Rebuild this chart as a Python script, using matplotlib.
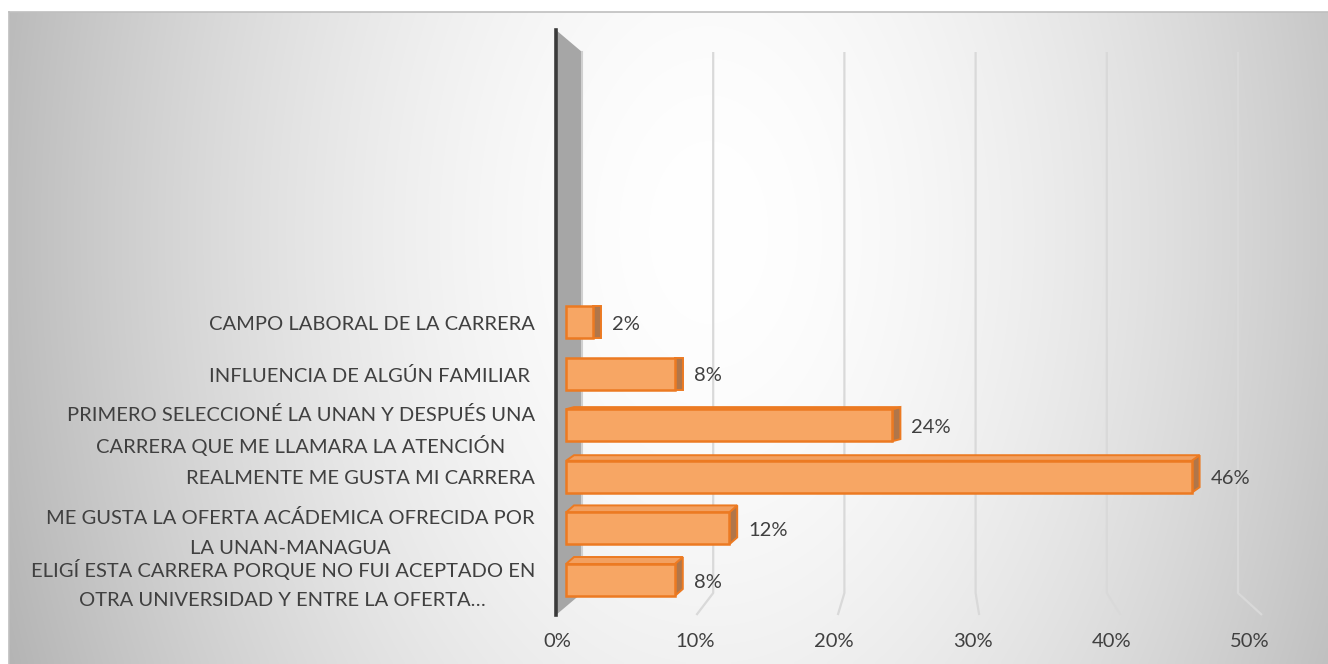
import numpy as np
import matplotlib
matplotlib.use("Agg")
import matplotlib.pyplot as plt
from matplotlib.patches import Polygon

# ─── data ─────────────────────────────────────────────────────
categories = [
    "CAMPO LABORAL DE LA CARRERA",
    "INFLUENCIA DE ALGÚN FAMILIAR ",
    "PRIMERO SELECCIONÉ LA UNAN Y DESPUÉS UNA\nCARRERA QUE ME LLAMARA LA ATENCIÓN",
    "REALMENTE ME GUSTA MI CARRERA",
    "ME GUSTA LA OFERTA ACÁDEMICA OFRECIDA POR\nLA UNAN-MANAGUA",
    "ELIGÍ ESTA CARRERA PORQUE NO FUI ACEPTADO EN\nOTRA UNIVERSIDAD Y ENTRE LA OFERTA…",
]
values = [0.02, 0.08, 0.24, 0.46, 0.12, 0.08]
value_labels = ["2%", "8%", "24%", "46%", "12%", "8%"]
ticks = [0.0, 0.1, 0.2, 0.3, 0.4, 0.5]
tick_labels = ["0%", "10%", "20%", "30%", "40%", "50%"]

# ─── style ────────────────────────────────────────────────────
FONT = ["Lato", "DejaVu Sans"]
TXT = "#404040"
FS = 14.5
FACE, EDGE, SIDE, TOP = "#F7A664", "#EC7A22", "#B0764A", "#F2A060"
GRID = "#D9D9D9"

W, H = 1328, 664
fig = plt.figure(figsize=(W / 100, H / 100), dpi=100)
fig.patch.set_facecolor("white")

# ── chart area background (soft radial gradient) ──────────────
bg = fig.add_axes([9 / W, 0, (W - 9) / W, (H - 12) / H])
xx, yy = np.meshgrid(np.linspace(0, W - 9, 400), np.linspace(0, H - 12, 200))
r = np.sqrt(((xx - 700) / 650) ** 2 + ((yy - 220) / 1000) ** 2)
shade = 255 - 58 * np.clip(r, 0, 1.5) ** 1.7
img = np.dstack([shade, shade, shade]) / 255
bg.imshow(img, extent=[0, 1, 0, 1], aspect="auto", interpolation="bilinear")
bg.set_xticks([])
bg.set_yticks([])
for side in ["right", "bottom"]:
    bg.spines[side].set_visible(False)
for side in ["top", "left"]:
    bg.spines[side].set_color("#BFBFBF")
    bg.spines[side].set_linewidth(1.2)

# ── main axes: x is the share, y the category row ─────────────
PX_X = 1360.0          # pixels per unit of x
PX_Y = 51.6            # pixels per category row
X0, Y0 = 566, 322      # pixel of x=0 and of first row
XMIN, XMAX = -0.02, 0.53
top_px, bot_px = 30, 615
left_px = X0 + XMIN * PX_X
ax = fig.add_axes([left_px / W, (H - bot_px) / H,
                   (XMAX - XMIN) * PX_X / W, (bot_px - top_px) / H])
ax.patch.set_visible(False)
for s in ax.spines.values():
    s.set_visible(False)

def px(p):
    return (p - X0) / PX_X

def py(p):
    return (p - Y0) / PX_Y

# perspective: back wall, floor front and label line
def back(v):
    return px(582) + v * 1312 / PX_X

def front(v):
    return px(555) + v * 1414 / PX_X

def lab(v):
    return px(557) + v * 1386 / PX_X

y_top, y_back, y_front = py(52), py(593), py(615)

# gridlines on back wall and down across the floor
for v in ticks[1:]:
    ax.plot([back(v), back(v), front(v)], [y_top, y_back, y_front],
            color=GRID, lw=1.6, clip_on=False, zorder=1, solid_capstyle="butt")

# left wall
ax.add_patch(Polygon([(px(556), py(30)), (back(0), y_top), (back(0), y_back),
                      (px(556), y_front)], closed=True, facecolor="#A6A6A6",
                     edgecolor="none", clip_on=False, zorder=2))
ax.plot([back(0), back(0)], [y_top, y_back], color="#D0D0D0", lw=1.5,
        clip_on=False, zorder=2)
ax.plot([px(556), px(556)], [py(30), y_front], color="#3A3A3A", lw=2.6,
        clip_on=False, zorder=3)

# ── 3D bars ───────────────────────────────────────────────────
h = 32 / PX_Y
dx = 8 / PX_X
ys = np.arange(len(values))
ax.barh(ys, values, height=h, left=0, color=FACE, edgecolor=EDGE,
        linewidth=1.8, zorder=5)
for i, v in enumerate(values):
    dy = np.clip((i - 1.4) * 3.5, 0, 7) / PX_Y
    yt, yb = i - h / 2, i + h / 2
    ax.add_patch(Polygon([(v, yt), (v + dx, yt - dy), (v + dx, yb - dy), (v, yb)],
                         closed=True, facecolor=SIDE, edgecolor=EDGE,
                         linewidth=1.4, zorder=4))
    if dy > 0:
        ax.add_patch(Polygon([(0, yt), (dx, yt - dy), (v + dx, yt - dy), (v, yt)],
                             closed=True, facecolor=TOP, edgecolor=EDGE,
                             linewidth=1.4, zorder=4))
    ax.text(v + 19 / PX_X, i + 2 / PX_Y, value_labels[i], ha="left", va="center",
            fontsize=FS, color=TXT, family=FONT, zorder=6)

# ── category labels: one text per line, block right aligned, lines centred
renderer = fig.canvas.get_renderer()
label_right = 535
for i, cat in enumerate(categories):
    lines = cat.split("\n")
    n = len(lines)
    texts = []
    for j, line in enumerate(lines):
        yline = i + ((j - (n - 1) / 2) * 30 + (5 if n > 1 else 2)) / PX_Y
        texts.append(ax.text(px(label_right), yline, line, ha="center",
                             va="center", fontsize=FS, color=TXT, family=FONT,
                             clip_on=False))
    widest = max(t.get_window_extent(renderer).width for t in texts)
    for t in texts:
        t.set_x(px(label_right - widest / 2))

# ── x axis labels ─────────────────────────────────────────────
ax.set_xticks([lab(v) for v in ticks], tick_labels)
ax.set_yticks([])
ax.tick_params(axis="x", length=0, pad=13, labelsize=FS, labelcolor=TXT)
for t in ax.get_xticklabels():
    t.set_family(FONT)

# limits last, so the tick positions do not widen the view
ax.set_xlim(XMIN, XMAX)
ax.set_ylim((bot_px - Y0) / PX_Y, (top_px - Y0) / PX_Y)

fig.savefig("out.png", dpi=100)
